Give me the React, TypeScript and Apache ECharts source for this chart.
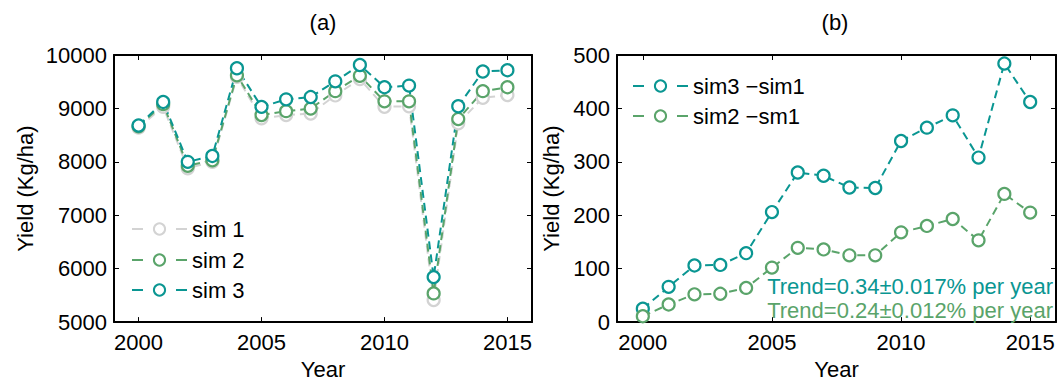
import React, { useEffect, useRef } from "react";
import * as echarts from "echarts";

const years = [2000, 2001, 2002, 2003, 2004, 2005, 2006, 2007, 2008, 2009, 2010, 2011, 2012, 2013, 2014, 2015];
const sim1 = [8640, 9030, 7880, 8000, 9590, 8815, 8875, 8905, 9243, 9550, 9030, 9040, 5414, 8722, 9200, 9250];
const sim2 = [8665, 9080, 7926, 8030, 9620, 8875, 8949, 8998, 9323, 9610, 9132, 9132, 5537, 8801, 9323, 9397];
const sim3 = [8680, 9121, 8000, 8110, 9752, 9029, 9170, 9213, 9507, 9813, 9397, 9427, 5842, 9041, 9691, 9715];
const diff31 = [25, 66, 106, 107, 129, 206, 280, 274, 252, 251, 339, 364, 387, 308, 484, 412];
const diff21 = [11, 33, 52, 53, 64, 102, 139, 136, 125, 125, 168, 180, 193, 153, 240, 205];
const yearTicks = [2000, 2005, 2010, 2015];

const GRAY = "#d3d3d3";
const GREEN = "#5aa46a";
const TEAL = "#0a9692";
const FONT = "Liberation Sans";

const pairs = (vals: number[]) => years.map((y, i) => [y, vals[i]]);
const plain = (v: number) => String(v);

function lineSeries(name: string, color: string, vals: number[], xi: number, yi: number) {
  return {
    type: "line",
    name,
    xAxisIndex: xi,
    yAxisIndex: yi,
    data: pairs(vals),
    symbol: "circle",
    symbolSize: 12,
    showSymbol: true,
    lineStyle: { color, width: 2, type: [8, 5] },
    itemStyle: { color: "#fff", borderColor: color, borderWidth: 2.2 },
    emphasis: { disabled: true },
    z: 2,
  };
}

function xAxes(gridIndex: number) {
  const common = {
    gridIndex,
    type: "value",
    min: 1999,
    max: 2016,
    splitLine: { show: false },
    axisLine: { show: true, onZero: false, lineStyle: { color: "#000", width: 2 } },
  };
  return [
    {
      ...common,
      position: "bottom",
      axisTick: { show: true, inside: true, length: 5, customValues: yearTicks, lineStyle: { color: "#000", width: 1 } },
      axisLabel: { show: true, customValues: yearTicks, formatter: plain, fontSize: 22, color: "#000", fontFamily: FONT, margin: 9 },
      name: "Year",
      nameLocation: "middle",
      nameGap: 24,
      nameTextStyle: { fontSize: 22, color: "#000", fontFamily: FONT },
    },
    {
      ...common,
      position: "top",
      axisTick: { show: true, inside: true, length: 5, customValues: yearTicks, lineStyle: { color: "#000", width: 1 } },
      axisLabel: { show: false },
    },
  ];
}

function yAxes(gridIndex: number, min: number, max: number, interval: number, gap: number) {
  const common = {
    gridIndex,
    type: "value",
    min,
    max,
    interval,
    splitLine: { show: false },
    axisLine: { show: true, onZero: false, lineStyle: { color: "#000", width: 2 } },
    axisTick: { show: true, inside: true, length: 5, lineStyle: { color: "#000", width: 1 } },
  };
  return [
    {
      ...common,
      position: "left",
      axisLabel: { show: true, formatter: plain, fontSize: 22, color: "#000", fontFamily: FONT, margin: 7 },
      name: "Yield (Kg/ha)",
      nameLocation: "middle",
      nameGap: gap,
      nameRotate: 90,
      nameTextStyle: { fontSize: 22, color: "#000", fontFamily: FONT },
    },
    { ...common, position: "right", axisLabel: { show: false } },
  ];
}

function legendItem(name: string, left: number, centerY: number) {
  return {
    data: [name],
    left,
    top: centerY - 12,
    orient: "vertical",
    padding: 0,
    itemWidth: 55,
    itemHeight: 14,
    itemGap: 0,
    selectedMode: false,
    textStyle: { fontSize: 22, color: "#000", fontFamily: FONT },
    lineStyle: { type: [11, 33], width: 2 },
  };
}

export default function App() {
  const ref = useRef<HTMLDivElement>(null);
  useEffect(() => {
    if (!ref.current) return;
    const chart = echarts.init(ref.current, null, { renderer: "svg" });
    chart.setOption({
      animation: false,
      backgroundColor: "#fff",
      grid: [
        { left: 114, top: 55, width: 418, height: 272 },
        { left: 617, top: 55, width: 439, height: 272 },
      ],
      xAxis: [...xAxes(0), ...xAxes(1)],
      yAxis: [...yAxes(0, 5000, 10000, 1000, 78), ...yAxes(1, 0, 500, 100, 55)],
      legend: [
        legendItem("sim 1", 131, 230),
        legendItem("sim 2", 131, 261),
        legendItem("sim 3", 131, 291),
        legendItem("sim3 \u2212sim1", 632, 87),
        legendItem("sim2 \u2212sm1", 632, 117),
      ],
      series: [
        lineSeries("sim 1", GRAY, sim1, 0, 0),
        lineSeries("sim 2", GREEN, sim2, 0, 0),
        lineSeries("sim 3", TEAL, sim3, 0, 0),
        lineSeries("sim3 \u2212sim1", TEAL, diff31, 2, 2),
        lineSeries("sim2 \u2212sm1", GREEN, diff21, 2, 2),
      ],
      graphic: [
        { type: "text", x: 323, y: 22, style: { text: "(a)", fontSize: 22, fontFamily: FONT, fill: "#000", align: "center", verticalAlign: "middle" } },
        { type: "text", x: 835, y: 22, style: { text: "(b)", fontSize: 22, fontFamily: FONT, fill: "#000", align: "center", verticalAlign: "middle" } },
        { type: "text", x: 1053, y: 286, z: 10, style: { text: "Trend=0.34\u00b10.017% per year", fontSize: 22, fontFamily: FONT, fill: TEAL, align: "right", verticalAlign: "middle" } },
        { type: "text", x: 1053, y: 310, z: 10, style: { text: "Trend=0.24\u00b10.012% per year", fontSize: 22, fontFamily: FONT, fill: GREEN, align: "right", verticalAlign: "middle" } },
      ],
    });
    return () => chart.dispose();
  }, []);
  return <div ref={ref} style={{ position: "fixed", left: 0, top: 0, width: 1063, height: 385 }} />;
}
